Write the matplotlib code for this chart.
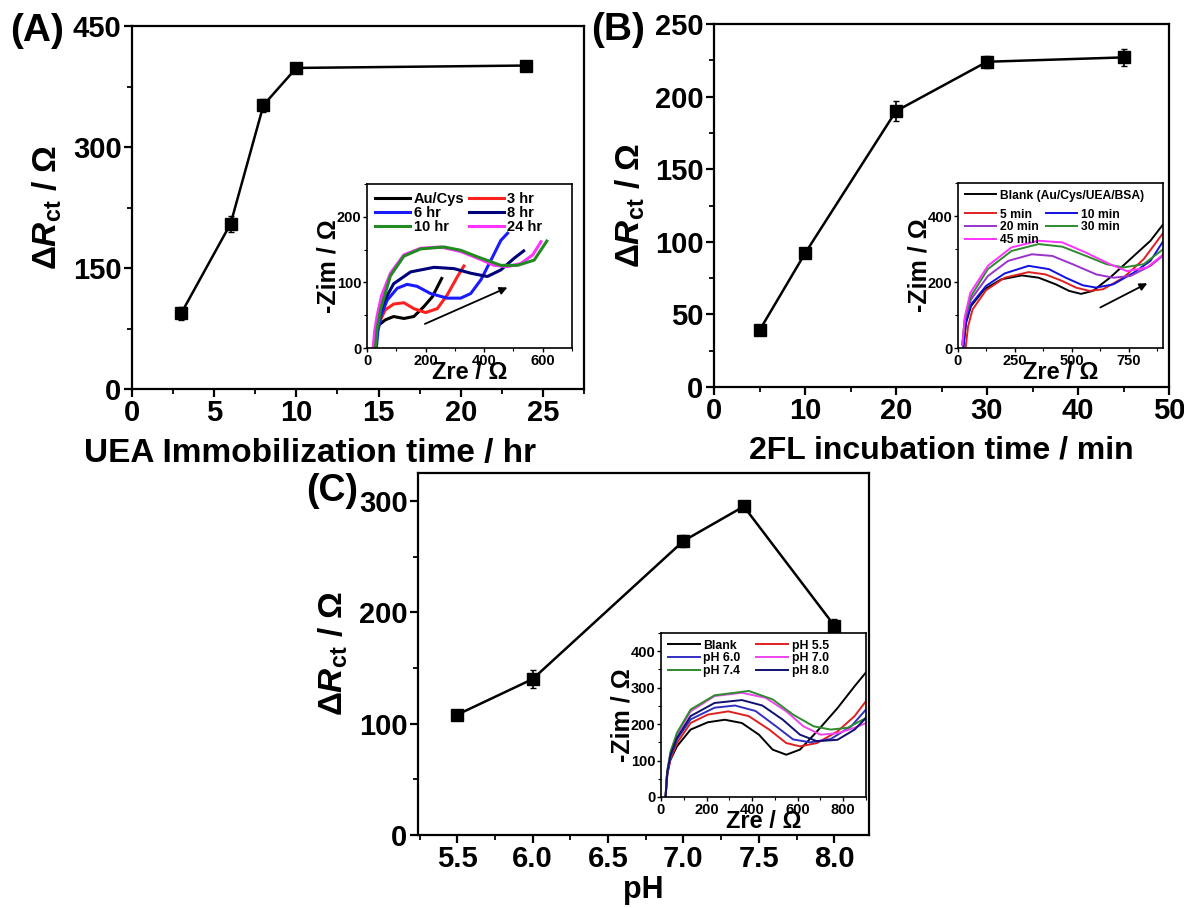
import matplotlib
matplotlib.use("Agg")
import matplotlib.pyplot as plt
from matplotlib.ticker import MultipleLocator, AutoMinorLocator

plt.rcParams["font.family"] = ["Liberation Sans", "DejaVu Sans"]
plt.rcParams["font.weight"] = "bold"
plt.rcParams["mathtext.fontset"] = "custom"
plt.rcParams["mathtext.rm"] = "Liberation Sans:bold"
plt.rcParams["mathtext.it"] = "Liberation Sans:bold:italic"
plt.rcParams["mathtext.bf"] = "Liberation Sans:bold"

# ── Panel A: UEA immobilization time ─────────────────────
a_time = [3, 6, 8, 10, 24]
a_rct = [94, 205, 352, 398, 401]
a_err = [8, 10, 8, 3, 3]

a_labels = ["Au/Cys", "3 hr", "6 hr", "8 hr", "10 hr", "24 hr"]
a_colors = ["#000000", "#ff2020", "#1a1aff", "#00007a", "#228b22", "#ff33ff"]
a_zre = [
    [23, 28, 40, 63, 91, 126, 160, 194, 223, 255],
    [29, 34, 45, 62, 91, 126, 160, 200, 240, 274, 309, 331],
    [32, 37, 48, 69, 103, 137, 171, 217, 274, 320, 354, 389, 429, 457, 480],
    [25, 30, 40, 57, 91, 149, 229, 297, 354, 411, 457, 503, 535],
    [29, 34, 47, 80, 126, 183, 263, 320, 377, 457, 514, 571, 614],
    [21, 26, 35, 50, 80, 126, 183, 251, 320, 377, 434, 480, 526, 566, 594],
]
a_zim = [
    [0, 22, 35, 43, 48, 45, 48, 63, 78, 106],
    [0, 25, 42, 58, 67, 69, 60, 54, 60, 81, 109, 125],
    [0, 25, 50, 73, 91, 97, 94, 83, 76, 76, 83, 104, 139, 164, 175],
    [0, 25, 48, 70, 98, 116, 123, 121, 114, 109, 119, 137, 148],
    [0, 28, 60, 110, 140, 151, 154, 149, 139, 126, 126, 134, 163],
    [0, 25, 50, 80, 114, 142, 152, 154, 147, 137, 126, 124, 129, 142, 162],
]
a_draw = [0, 1, 2, 3, 5, 4]

# ── Panel B: 2FL incubation time ─────────────────────────
b_time = [5, 10, 20, 30, 45]
b_rct = [39, 92, 190, 224, 227]
b_err = [1, 2, 7, 4, 6]

b_labels = ["Blank (Au/Cys/UEA/BSA)", "5 min", "10 min", "20 min", "30 min", "45 min"]
b_colors = ["#000000", "#e02020", "#1010e0", "#9933cc", "#2e8b2e", "#ff33ff"]
b_zre = [
    [24, 35, 57, 116, 190, 280, 354, 429, 488, 540, 592, 667, 756, 845, 902],
    [34, 44, 64, 123, 205, 310, 384, 458, 518, 577, 637, 726, 815, 902],
    [24, 35, 57, 123, 205, 310, 399, 473, 548, 607, 682, 771, 845, 902],
    [19, 30, 57, 131, 220, 324, 414, 503, 607, 682, 756, 845, 902],
    [19, 30, 57, 131, 235, 354, 458, 562, 652, 726, 815, 902],
    [19, 30, 54, 131, 235, 354, 458, 562, 667, 741, 830, 902],
]
b_zim = [
    [5, 75, 127, 178, 208, 220, 213, 193, 173, 164, 173, 213, 269, 325, 376],
    [3, 65, 117, 175, 213, 230, 223, 203, 183, 173, 178, 213, 269, 350],
    [5, 80, 132, 188, 226, 249, 239, 213, 190, 183, 193, 228, 264, 325],
    [10, 85, 147, 218, 264, 284, 279, 254, 223, 213, 218, 249, 281],
    [10, 90, 157, 239, 294, 315, 307, 279, 254, 244, 254, 300],
    [10, 95, 167, 249, 305, 325, 320, 289, 254, 233, 244, 284],
]

# ── Panel C: pH ──────────────────────────────────────────
c_ph = [5.5, 6.0, 7.0, 7.4, 8.0]
c_rct = [108, 140, 264, 295, 188]
c_err = [4, 8, 5, 4, 6]

c_labels = ["Blank", "pH 5.5", "pH 6.0", "pH 7.0", "pH 7.4", "pH 8.0"]
c_colors = ["#000000", "#e02020", "#3030c0", "#ee44ee", "#2e8b2e", "#101070"]
c_zre = [
    [20, 25, 40, 70, 130, 205, 280, 355, 430, 490, 550, 610, 685, 775, 850, 900],
    [20, 28, 42, 70, 130, 205, 295, 385, 475, 550, 610, 685, 775, 850, 900],
    [20, 28, 42, 70, 130, 235, 325, 415, 505, 580, 655, 745, 835, 900],
    [20, 28, 42, 70, 130, 235, 355, 460, 550, 625, 700, 775, 850, 900],
    [20, 28, 42, 70, 130, 235, 385, 490, 580, 670, 745, 820, 900],
    [20, 28, 42, 70, 130, 235, 355, 445, 535, 610, 685, 775, 850, 900],
]
c_zim = [
    [0, 57, 100, 139, 185, 205, 212, 203, 171, 130, 116, 130, 180, 244, 304, 342],
    [0, 62, 105, 148, 203, 226, 235, 222, 185, 148, 139, 148, 180, 222, 263],
    [0, 66, 112, 158, 213, 245, 251, 236, 194, 158, 150, 159, 194, 240],
    [0, 72, 122, 171, 235, 277, 286, 272, 235, 194, 171, 175, 190, 203],
    [0, 74, 125, 176, 240, 279, 291, 268, 226, 194, 185, 190, 217],
    [0, 69, 116, 162, 222, 258, 266, 251, 212, 171, 153, 157, 185, 217],
]

W, H = 1184, 908


def px_box(left, right, top, bottom):
    return [left / W, (H - bottom) / H, (right - left) / W, (bottom - top) / H]


def style_main(ax, xmaj, ymaj):
    for s in ax.spines.values():
        s.set_linewidth(1.6)
    ax.xaxis.set_major_locator(MultipleLocator(xmaj))
    ax.yaxis.set_major_locator(MultipleLocator(ymaj))
    ax.xaxis.set_minor_locator(AutoMinorLocator(2))
    ax.yaxis.set_minor_locator(AutoMinorLocator(2))
    ax.tick_params(which="major", direction="out", length=6, width=1.6,
                   labelsize=21, pad=1.5, top=False, right=False)
    ax.tick_params(which="minor", direction="out", length=3.5, width=1.3,
                   top=False, right=False)
    ax.set_ylabel(r"$\Delta R_{\rm ct}$ / Ω", fontsize=24, fontweight="bold", labelpad=6)


def style_inset(ax, xmaj, ymaj):
    for s in ax.spines.values():
        s.set_linewidth(1.2)
    ax.xaxis.set_major_locator(MultipleLocator(xmaj))
    ax.yaxis.set_major_locator(MultipleLocator(ymaj))
    ax.xaxis.set_minor_locator(AutoMinorLocator(2))
    ax.yaxis.set_minor_locator(AutoMinorLocator(2))
    ax.tick_params(which="major", direction="out", length=3, width=1,
                   labelsize=10.5, pad=1, top=False, right=False)
    ax.tick_params(which="minor", direction="out", length=2, width=0.8,
                   top=False, right=False)
    ax.set_xlabel("Zre / Ω", fontsize=17, fontweight="bold", labelpad=-5)
    ax.set_ylabel("-Zim / Ω", fontsize=18, fontweight="bold", labelpad=-3)


def main_series(ax, x, y, err):
    ax.errorbar(x, y, yerr=err, color="black", marker="s", markersize=9,
                linewidth=1.8, capsize=2.5, elinewidth=1.2)


fig = plt.figure(figsize=(W / 100, H / 100), dpi=100)

# ── (A) ──
axA = fig.add_axes(px_box(132, 584, 26, 389))
main_series(axA, a_time, a_rct, a_err)
axA.set_xlim(0, 27.5)
axA.set_ylim(0, 450)
style_main(axA, 5, 150)
axA.set_xlabel("UEA Immobilization time / hr", fontsize=24, fontweight="bold", labelpad=7)
axA.xaxis.set_label_coords(0.395, -0.135, transform=axA.transAxes)

insA = fig.add_axes(px_box(367, 572, 184, 348))
for i in a_draw:
    insA.plot(a_zre[i], a_zim[i], color=a_colors[i], linewidth=2.2, label=a_labels[i])
insA.annotate("", xy=(488, 94), xytext=(189, 35),
              arrowprops=dict(arrowstyle="-|>", color="black", lw=1.3, mutation_scale=11))
insA.set_xlim(0, 700)
insA.set_ylim(0, 250)
style_inset(insA, 200, 100)
hA, lA = insA.get_legend_handles_labels()
order = [lA.index(n) for n in ["Au/Cys", "6 hr", "10 hr", "3 hr", "8 hr", "24 hr"]]
insA.legend([hA[k] for k in order], [lA[k] for k in order], ncol=2, loc="upper left",
            frameon=False, fontsize=10.5, handlelength=2.4, handletextpad=0.25,
            columnspacing=0.3, labelspacing=0.0, borderaxespad=0.15)

# ── (B) ──
axB = fig.add_axes(px_box(714, 1169, 24, 387))
main_series(axB, b_time, b_rct, b_err)
axB.set_xlim(0, 50)
axB.set_ylim(0, 250)
style_main(axB, 10, 50)
axB.set_xlabel("2FL incubation time / min", fontsize=23, fontweight="bold", labelpad=7)

insB = fig.add_axes(px_box(958, 1163, 183, 348))
linesB = []
for i in range(len(b_labels)):
    ln, = insB.plot(b_zre[i], b_zim[i], color=b_colors[i], linewidth=1.4)
    linesB.append(ln)
insB.annotate("", xy=(842, 200), xytext=(614, 119),
              arrowprops=dict(arrowstyle="-|>", color="black", lw=1.3, mutation_scale=11))
insB.set_xlim(0, 900)
insB.set_ylim(0, 500)
style_inset(insB, 250, 200)
legB1 = insB.legend([linesB[0]], [b_labels[0]], loc="upper left", frameon=False,
                    fontsize=8.7, handlelength=2.6, handletextpad=0.3,
                    borderaxespad=0.15)
insB.add_artist(legB1)
sel = [1, 3, 5, 2, 4]
insB.legend([linesB[k] for k in sel], [b_labels[k] for k in sel], ncol=2,
            loc="upper left", bbox_to_anchor=(0.0, 0.885), frameon=False,
            fontsize=8.7, handlelength=2.6, handletextpad=0.3,
            columnspacing=0.6, labelspacing=0.05, borderaxespad=0.15)

# ── (C) ──
axC = fig.add_axes(px_box(418, 869, 473, 835))
main_series(axC, c_ph, c_rct, c_err)
axC.set_xlim(5.24, 8.23)
axC.set_ylim(0, 325)
style_main(axC, 0.5, 100)
axC.xaxis.set_major_formatter(plt.FormatStrFormatter("%.1f"))
axC.set_xlabel("pH", fontsize=22, fontweight="bold", labelpad=1)

insC = fig.add_axes(px_box(661, 866, 633, 797))
linesC = []
for i in range(len(c_labels)):
    ln, = insC.plot(c_zre[i], c_zim[i], color=c_colors[i], linewidth=1.4)
    linesC.append(ln)
insC.set_xlim(0, 900)
insC.set_ylim(0, 450)
style_inset(insC, 200, 100)
selC = [0, 2, 4, 1, 3, 5]
insC.legend([linesC[k] for k in selC], [c_labels[k] for k in selC], ncol=2,
            loc="upper left", frameon=False, fontsize=8.8, handlelength=2.6,
            handletextpad=0.3, columnspacing=1.3, labelspacing=0.05,
            borderaxespad=0.15)

# panel letters
fig.text(10 / W, 1 - 31 / H, "(A)", fontsize=28, fontweight="bold", va="center")
fig.text(591 / W, 1 - 30 / H, "(B)", fontsize=28, fontweight="bold", va="center")
fig.text(306 / W, 1 - 491 / H, "(C)", fontsize=27, fontweight="bold", va="center")

fig.savefig("out.png", dpi=100)
plt.close(fig)
